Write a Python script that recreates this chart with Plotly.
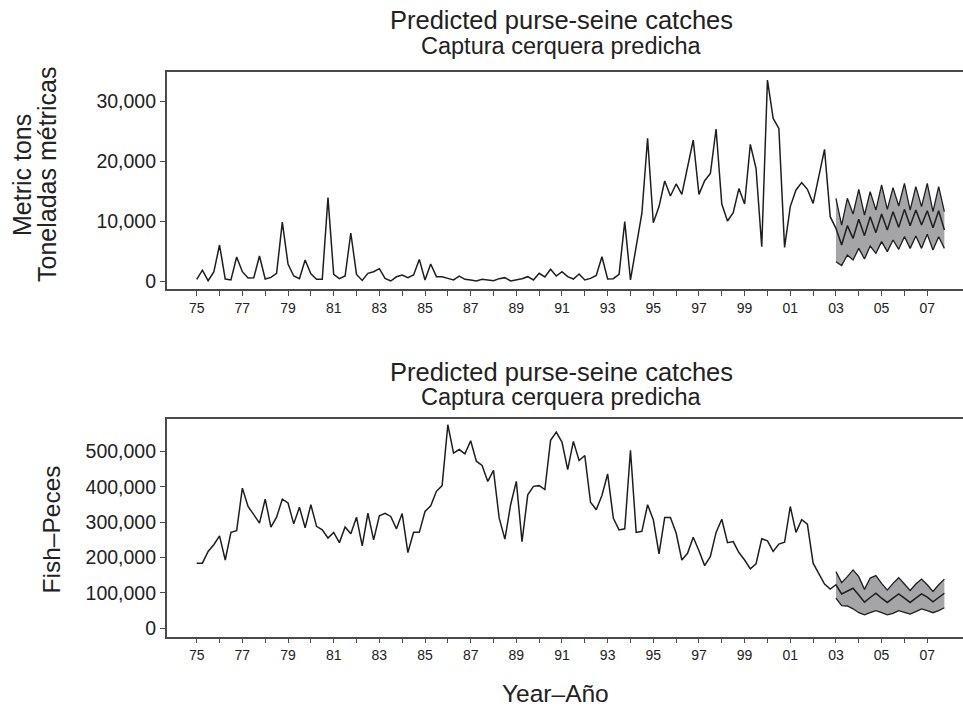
import plotly.graph_objects as go

START_YEAR = 1975.0

# Top panel: metric tons, quarterly observed 1975Q1-2002Q4
tons_observed = [
    280, 1800, 50, 1500, 6000, 330, 170, 4000, 1550, 500, 550, 4170,
    330, 600, 1280, 9800, 2830, 830, 390, 3500, 1200, 280, 280, 13900,
    1100, 400, 830, 8000, 1100, 100, 1280, 1550, 2050, 440, 0, 700,
    1000, 550, 1000, 3600,
    170, 2830, 720, 720, 440, 170, 830, 280, 170, 0, 280, 220,
    60, 390, 560, 0, 170, 390, 720, 170, 1280, 670, 1950, 830,
    1550, 720, 330, 1170, 170, 440, 940, 4050, 330, 390, 1100, 9900,
    170, 5440, 11300, 23800, 9700, 12400, 16670, 14170, 16170, 14440, 18780, 23500,
    14440, 16720, 17940, 25330, 12830, 10000, 11400, 15400, 12830, 22780, 18780, 5720,
    33500, 27100, 25440, 5600, 12400, 15170, 16390, 15280, 12940, 17670, 21940, 10720,
]
# Forecast 2003Q1-2007Q4
tons_pred = [8780, 6000, 9220, 7110, 10280, 7560, 10720, 8060, 11170, 8500,
             11560, 8940, 11940, 9220, 11830, 9330, 11720, 8890, 11720, 8500]
tons_upper = [13780, 9330, 13780, 11170, 15280, 11000, 14890, 11830, 16000, 11940,
              15560, 12500, 16280, 11830, 15720, 12390, 16280, 11560, 15720, 11560]
tons_lower = [3220, 2560, 4330, 3500, 5440, 3670, 5830, 4610, 6560, 4890,
              6830, 5280, 7390, 5440, 7500, 5440, 7780, 5170, 7390, 5440]

# Bottom panel: number of fish
fish_observed = [
    184000, 184000, 217000, 236000, 261000, 193000, 271000, 276000, 396000, 344000, 321000, 297000,
    365000, 286000, 314000, 365000, 354000, 295000, 342000, 284000, 349000, 288000, 278000, 255000,
    271000, 242000, 286000, 267000, 314000, 233000, 325000, 250000, 318000, 325000, 316000, 281000,
    324000, 214000, 271000, 271000,
    330000, 346000, 387000, 403000, 575000, 495000, 505000, 493000, 530000, 472000, 460000, 415000,
    446000, 311000, 252000, 349000, 415000, 245000, 377000, 401000, 403000, 392000, 531000, 554000,
    526000, 448000, 528000, 474000, 488000, 356000, 335000, 375000, 436000, 311000, 278000, 281000,
    503000, 271000, 274000, 349000, 307000, 210000, 313000, 313000, 269000, 193000, 212000, 257000,
    219000, 177000, 203000, 271000, 308000, 242000, 245000, 214000, 193000, 168000, 182000, 253000,
    247000, 217000, 238000, 243000, 344000, 271000, 307000, 294000, 184000, 156000, 125000, 111000,
]
fish_pred = [123000, 97000, 104000, 113000, 94000, 74000, 87000, 99000, 85000, 73000,
             85000, 97000, 85000, 73000, 85000, 97000, 88000, 75000, 87000, 99000]
fish_upper = [160000, 129000, 146000, 165000, 146000, 110000, 142000, 149000, 127000, 108000,
              127000, 143000, 125000, 107000, 125000, 139000, 123000, 104000, 123000, 139000]
fish_lower = [85000, 64000, 63000, 55000, 44000, 38000, 44000, 50000, 44000, 38000,
              42000, 50000, 45000, 40000, 47000, 55000, 50000, 44000, 50000, 58000]

tick_years = list(range(1975, 2008))
tick_labels = [f"{y % 100:02d}" if (y - 1975) % 2 == 0 else "" for y in tick_years]

top_title = ["Predicted purse-seine catches", "Captura cerquera predicha"]
y1_title = ["Metric tons", "Toneladas métricas"]
y2_title = "Fish–Peces"
x_title = "Year–Año"


def qx(n, offset=0):
    return [START_YEAR + 0.25 * (i + offset) for i in range(n)]


# The page body margin is removed (post_script), so the figure fills the window.
OFF = 0
WIN_W, WIN_H = 963, 709
W, H = WIN_W - OFF, WIN_H - OFF
FONT = "Liberation Sans, Arial, sans-serif"
LINE = "#1e1e1e"
BAND = "#a5a5a8"
AX = "#4a4a4a"
TXT = "#222"

fig = go.Figure()


def add_panel(obs, pred, upper, lower, xa, ya):
    n = len(obs)
    xf = qx(len(pred), n)
    fig.add_trace(go.Scatter(x=xf, y=lower, mode="lines", line=dict(width=0),
                             xaxis=xa, yaxis=ya, showlegend=False, hoverinfo="skip"))
    fig.add_trace(go.Scatter(x=xf, y=upper, mode="lines", line=dict(width=0),
                             fill="tonexty", fillcolor=BAND,
                             xaxis=xa, yaxis=ya, showlegend=False, hoverinfo="skip"))
    fig.add_trace(go.Scatter(x=xf, y=lower, mode="lines", line=dict(color=LINE, width=1.3),
                             xaxis=xa, yaxis=ya, showlegend=False))
    fig.add_trace(go.Scatter(x=xf, y=upper, mode="lines", line=dict(color=LINE, width=1.3),
                             xaxis=xa, yaxis=ya, showlegend=False))
    fig.add_trace(go.Scatter(x=qx(n) + xf, y=list(obs) + list(pred), mode="lines",
                             line=dict(color=LINE, width=1.5),
                             xaxis=xa, yaxis=ya, showlegend=False))


add_panel(tons_observed, tons_pred, tons_upper, tons_lower, "x", "y")
add_panel(fish_observed, fish_pred, fish_upper, fish_lower, "x2", "y2")

# window-pixel geometry
x_left = 166.7
x75 = 196.7
px_per_year = 22.83
x_range = [1975 - (x75 - x_left) / px_per_year, 1975 + (WIN_W - x75) / px_per_year]

xcommon = dict(range=x_range, domain=[(x_left - OFF) / W, 1.0], tickmode="array",
               tickvals=tick_years, ticktext=tick_labels, ticks="outside", ticklen=5,
               tickcolor=AX, showline=True, linecolor=AX, linewidth=1.5, mirror=True,
               showgrid=False, zeroline=False, automargin=False,
               tickfont=dict(family=FONT, size=14, color=TXT))
ycommon = dict(ticks="outside", ticklen=5, tickcolor=AX, showline=True, linecolor=AX,
               linewidth=1.5, showgrid=False, zeroline=False, automargin=False,
               tickformat=",d", tickfont=dict(family=FONT, size=19.5, color=TXT))

top_px, bot_px = 72 - OFF, 289 - OFF
top2_px, bot2_px = 419.3 - OFF, 636.7 - OFF

fig.update_layout(
    width=W, height=H, margin=dict(l=0, r=0, t=0, b=0, pad=0),
    plot_bgcolor="white", paper_bgcolor="white", template="none",
    xaxis=dict(**xcommon, anchor="y"),
    yaxis=dict(**ycommon, anchor="x", domain=[1 - bot_px / H, 1 - top_px / H],
               range=[-1333, 34833], tickvals=[0, 10000, 20000, 30000]),
    xaxis2=dict(**xcommon, anchor="y2"),
    yaxis2=dict(**ycommon, anchor="x2", domain=[1 - bot2_px / H, 1 - top2_px / H],
                range=[-23730, 590400], tickvals=[0, 100000, 200000, 300000, 400000, 500000]),
)

ann = []


def text(x_win, y_win, s, size, angle=0):
    ann.append(dict(x=(x_win - OFF) / W, y=1 - (y_win - OFF) / H, xref="paper", yref="paper",
                    text=s, showarrow=False, textangle=angle, xanchor="center",
                    yanchor="middle", font=dict(family=FONT, size=size, color=TXT)))


for base in (0, 351):
    text(561, 20.5 + base, top_title[0], 25.5)
    text(561, 46 + base, top_title[1], 23.5)
text(22, 175, y1_title[0], 25, -90)
text(47, 175, y1_title[1], 25, -90)
text(51, 529.5, y2_title, 24.5, -90)
text(555, 693, x_title, 24.5)
fig.update_layout(annotations=ann)

fig.write_html(
    "out.html",
    config={"displayModeBar": False},
    post_script="document.body.style.margin='0';document.body.style.overflow='hidden';",
)
